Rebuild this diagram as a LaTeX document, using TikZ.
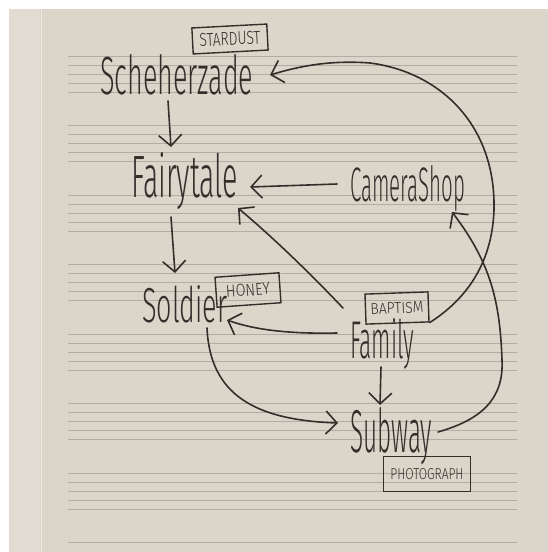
\documentclass[tikz,border=0pt]{standalone}
\usepackage{fontspec}
\setmainfont{Fira Sans}
\newfontfamily\hwfont{Fira Sans Light}
\usetikzlibrary{arrows.meta,calc}
\definecolor{paper}{RGB}{220,213,202}
\definecolor{paperL}{RGB}{225,219,209}
\definecolor{staffc}{RGB}{178,172,163}
\definecolor{ink}{RGB}{50,47,43}
\newcommand{\hw}[3]{\resizebox{#1pt}{#2pt}{\hwfont #3}}
\begin{document}
\begin{tikzpicture}[x=1pt,y=-1pt,
  lbl/.style={inner sep=0pt, anchor=base west, text=ink},
  tag/.style={draw=ink, line width=1.4pt, inner sep=0pt, text=ink},
  arr/.style={draw=ink, line width=1.6pt, line cap=round, -{Straight Barb[length=11pt,width=23pt]}},
]
\fill[white] (0,0) rectangle (548,552);
\useasboundingbox (0,0) rectangle (548,552);
\fill[paper] (9,9) rectangle (548,552);
\fill[paperL] (9,9) rectangle (40,552);
\draw[paperL!60!white, line width=1pt] (41,9) -- (41,552);
\foreach \k in {0,...,7} \foreach \i in {0,...,4} {
  \pgfmathsetmacro\yy{56+69.5*\k+9*\i}
  \ifdim\yy pt<551pt \draw[staffc, line width=0.6pt] (68,\yy) -- (517,\yy); \fi
}
% main labels
\node[lbl] (sch) at (100,94) {\hw{153}{40}{Scheherzade}};
\node[lbl] (fair) at (131,197) {\hw{107}{45}{Fairytale}};
\node[lbl] (cam) at (350,201) {\hw{115}{36}{CameraShop}};
\node[lbl] (sold) at (142,322) {\hw{85}{37}{Soldier}};
\node[lbl] (fam) at (350,358) {\hw{64}{40}{Family}};
\node[lbl] (sub) at (350,452) {\hw{82}{45}{Subway}};
% tags
\node[tag, minimum width=75pt, minimum height=26pt, rotate=3] (star) at (230,39) {\hw{61}{13}{STARDUST}};
\node[tag, minimum width=64pt, minimum height=30pt, rotate=4] (honey) at (248,290) {\hw{44}{12}{HONEY}};
\node[tag, minimum width=63pt, minimum height=30pt, rotate=2] (bap) at (397,308) {\hw{53}{11}{BAPTISM}};
\node[tag, minimum width=87pt, minimum height=35pt] (photo) at (427,474) {\hw{73}{11}{PHOTOGRAPH}};
% connectors
\draw[arr] ($(sch.base west)+(68,7)$) -- ($(fair.base west)+(40,-50)$);
\draw[arr] ($(fair.base west)+(40,20)$) -- ($(sold.base west)+(33,-49)$);
\draw[arr] ($(cam.base west)+(-13,-17)$) -- ($(fair.base west)+(119,-10)$);
\draw[arr] ($(fam.base west)+(-7,-50)$) .. controls (305,268) and (270,235) .. ($(fair.base west)+(107,11)$);
\draw[arr] ($(fam.base west)+(-13,-25)$) .. controls (290,334) and (255,330) .. ($(sold.base west)+(85,-2)$);
\draw[arr] ($(sold.base west)+(65,6)$) .. controls (210,395) and (255,420) .. ($(sub.base west)+(-12,-29)$);
\draw[arr] ($(fam.base west)+(31,9)$) -- ($(sub.base west)+(30,-47)$);
\draw[arr] ($(sub.base west)+(88,-20)$) .. controls (480,420) and (504,400) .. (502,360) .. controls (500,300) and (490,262) .. ($(cam.base west)+(102,11)$);
\draw[arr] (bap.south east) .. controls (465,300) and (492,265) .. (494,210) .. controls (496,125) and (440,72) .. (370,63) .. controls (330,60) and (300,66) .. ($(sch.base west)+(170,-19)$);
\end{tikzpicture}
\end{document}
